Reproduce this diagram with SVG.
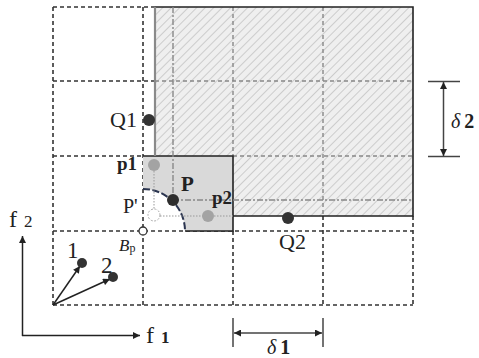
<svg xmlns="http://www.w3.org/2000/svg" width="479" height="358" viewBox="0 0 479 358">
<defs>
<pattern id="hatch" patternUnits="userSpaceOnUse" width="6" height="6" patternTransform="rotate(45)">
<rect width="6" height="6" fill="#efefef"/>
<line x1="0" y1="0" x2="0" y2="6" stroke="#bdbdbd" stroke-width="1.4"/>
</pattern>
<marker id="ah" viewBox="0 0 10 10" refX="10" refY="5" markerWidth="9" markerHeight="7" markerUnits="userSpaceOnUse" orient="auto-start-reverse">
<path d="M0,0 L10,5 L0,10 z" fill="#222"/>
</marker>
</defs>
<style>
.grid{stroke:#333;stroke-width:1.6;stroke-dasharray:4,3;fill:none}
.gridl{stroke:#888;stroke-width:1.4;stroke-dasharray:4,3;fill:none}
.dd{stroke:#888;stroke-width:1.4;stroke-dasharray:6,2,2,2;fill:none}
.dot{stroke:#999;stroke-width:1;stroke-dasharray:1.5,1.5;fill:none}
.edge{stroke:#222;stroke-width:1.6;fill:none}
.ax{stroke:#222;stroke-width:1.5;fill:none}
.dim{stroke:#444;stroke-width:1.5;fill:none}
.t{font-family:"Liberation Serif",serif;fill:#222}
.b{font-weight:bold}
.dk{fill:#333}
.gr{fill:#a3a3a3}
</style>
<g id="dominated">
<path d="M155,7 H413 V216 H233 V156 H155 Z" fill="url(#hatch)"/>
</g>
<g id="grid">
<line class="grid" x1="53" y1="7" x2="155" y2="7"/>
<line class="grid" x1="53" y1="7" x2="53" y2="305"/>
<line class="grid" x1="143" y1="7" x2="143" y2="305"/>
<line class="grid" x1="53" y1="81" x2="155" y2="81"/>
<line class="gridl" x1="155" y1="81" x2="413" y2="81"/>
<line class="grid" x1="53" y1="156" x2="143" y2="156"/>
<line class="gridl" x1="233" y1="156" x2="413" y2="156"/>
<line class="gridl" x1="233" y1="7" x2="233" y2="156"/>
<line class="gridl" x1="323" y1="7" x2="323" y2="216"/>
<line class="grid" x1="323" y1="216" x2="323" y2="305"/>
<line class="grid" x1="233" y1="231" x2="233" y2="305"/>
<line class="grid" x1="53" y1="231" x2="413" y2="231"/>
<line class="grid" x1="53" y1="305" x2="413" y2="305"/>
<line class="grid" x1="413" y1="216" x2="413" y2="305"/>
</g>
<g id="pbox">
<path d="M143,156 H233 V231 H185 A42,42 0 0 0 143,189 Z" fill="#d9d9d9"/>
<path d="M143,156 H233 V231 H185" class="edge"/>
<path d="M143,189 A42,42 0 0 1 185,231" fill="none" stroke="#2b3550" stroke-width="2" stroke-dasharray="7,2.5"/>
</g>
<g id="edges">
<path d="M155,7 H413 V216 H233" class="edge"/>
<line x1="155" y1="7" x2="155" y2="156" stroke="#8a8a8a" stroke-width="2.2"/>
<line class="dd" x1="173" y1="7" x2="173" y2="200"/>
<line class="dd" x1="173" y1="200" x2="413" y2="200"/>
<line class="dot" x1="154" y1="165" x2="154" y2="215"/>
<line class="dot" x1="154" y1="216" x2="233" y2="216"/>
</g>
<g id="connectors">
<line class="ax" x1="53" y1="305" x2="80" y2="266" marker-end="url(#ah)"/>
<line class="ax" x1="53" y1="305" x2="110" y2="279" marker-end="url(#ah)"/>
<line class="ax" x1="22.5" y1="336" x2="22.5" y2="236" marker-end="url(#ah)"/>
<line class="ax" x1="22" y1="335.5" x2="140" y2="335.5" marker-end="url(#ah)"/>
<line class="dim" x1="233" y1="318" x2="233" y2="347"/>
<line class="dim" x1="323" y1="318" x2="323" y2="347"/>
<line class="dim" x1="234" y1="333" x2="322" y2="333" marker-start="url(#ah)" marker-end="url(#ah)"/>
<line class="dim" x1="428" y1="81.5" x2="460" y2="81.5"/>
<line class="dim" x1="428" y1="156.5" x2="460" y2="156.5"/>
<line class="dim" x1="443.5" y1="82" x2="443.5" y2="156" marker-start="url(#ah)" marker-end="url(#ah)"/>
</g>
<g id="Q1"><circle class="dk" cx="149" cy="120" r="6"/><text class="t" x="110" y="127" font-size="22">Q1</text></g>
<g id="Q2"><circle class="dk" cx="288" cy="218" r="6"/><text class="t" x="279" y="249" font-size="22">Q2</text></g>
<g id="p1"><circle class="gr" cx="154" cy="165" r="6"/><text class="t b" x="117" y="170" font-size="19">p1</text></g>
<g id="p2"><circle class="gr" cx="208" cy="216" r="6"/><text class="t b" x="212" y="204" font-size="19">p2</text></g>
<g id="Pprime"><circle cx="154" cy="215" r="6" fill="#fff" stroke="#aaa" stroke-width="1" stroke-dasharray="2,1.5"/><text class="t" x="123" y="213" font-size="20">P'</text></g>
<g id="P"><circle fill="#2e2e2e" cx="173" cy="200" r="6"/><text class="t b" x="181" y="191" font-size="21">P</text></g>
<g id="Bp"><circle cx="143" cy="231" r="4" fill="#fff" stroke="#333" stroke-width="1.3"/><text class="t" x="119" y="251" font-size="17" font-style="italic">B<tspan font-size="12" font-style="normal" dy="1">p</tspan></text></g>
<g id="pt1"><circle class="dk" cx="82" cy="263" r="5"/><text class="t" x="67" y="258" font-size="23">1</text></g>
<g id="pt2"><circle class="dk" cx="113" cy="277" r="5"/><text class="t" x="101" y="273" font-size="23">2</text></g>
<g id="labels">
<text class="t" x="9" y="227" font-size="24">f<tspan font-size="17" dx="7">2</tspan></text>
<text class="t" x="146" y="343" font-size="24">f<tspan font-size="17" font-weight="bold" dx="7">1</tspan></text>
<text class="t" x="267" y="354" font-size="20"><tspan font-style="italic">δ</tspan><tspan font-weight="bold" dx="4">1</tspan></text>
<text class="t" x="451" y="128" font-size="20"><tspan font-style="italic">δ</tspan><tspan font-weight="bold" dx="4">2</tspan></text>
</g>
</svg>
